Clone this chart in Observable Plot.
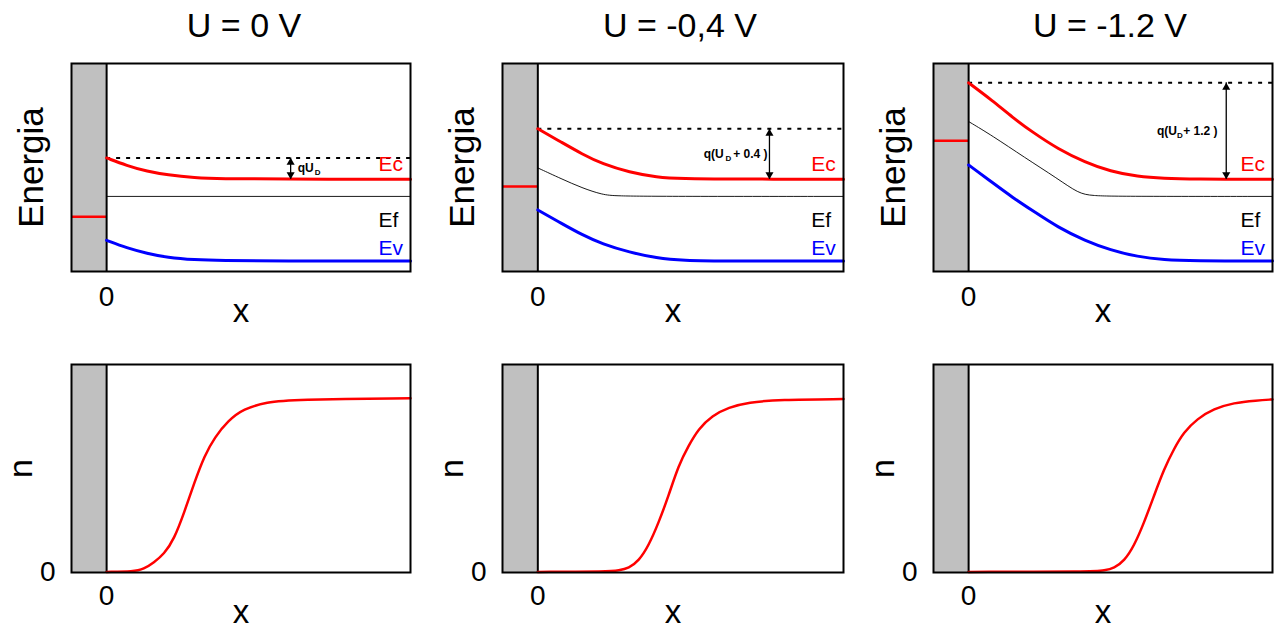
<!DOCTYPE html>
<html>
<head>
<meta charset="utf-8">
<script src="https://cdn.jsdelivr.net/npm/d3@7"></script>
<script src="https://cdn.jsdelivr.net/npm/@observablehq/plot@0.6"></script>
<style>
  html, body { margin: 0; padding: 0; background: #fff; }
  body { width: 1274px; height: 628px; overflow: hidden; position: relative;
         font-family: "Liberation Sans", Arial, Helvetica, sans-serif; }
  .title { position: absolute; width: 400px; text-align: center; font-size: 34px;
           line-height: 1; color: #000; white-space: pre; }
  .panel { position: absolute; }
  .panel svg { max-width: none !important; }
</style>
</head>
<body>
<script>
// ---------------- DATA ----------------
const titles = ["U = 0 V", "U = -0,4 V", "U = -1.2 V"];
const bandNames = ["Ec", "Ef", "Ev"];
const arrowMain = ["qU", "q(U", "q(U"];
const arrowSub = ["D", "D", "D"];
const arrowTail = ["", "+ 0.4 )", "+ 1.2 )"];

// metal wall spans x from -1.04 to 0 (semiconductor from 0 to 9)
const wallX = [-1.04, 0];

// Energy band edges [x, E]
const Ec_0V = [[0,5.46],[0.6,5.09],[1.2,4.81],[1.8,4.64],[2.6,4.51],[3.4,4.46],[5,4.44],[9,4.44]];
const Ef_0V = [[0,3.61],[9,3.61]];
const Ev_0V = [[0,1.50],[0.6,1.13],[1.2,0.87],[1.8,0.67],[2.6,0.56],[3.4,0.52],[5,0.50],[9,0.50]];

const Ec_04V = [[0,6.86],[0.7,6.21],[1.3,5.65],[1.9,5.17],[2.7,4.77],[3.5,4.53],[4.25,4.46],[5.6,4.44],[9,4.44]];
const Ef_04V = [[0,4.98],[0.7,4.45],[1.3,4.02],[1.9,3.69],[2.3,3.63],[3.7,3.61],[9,3.61]];
const Ev_04V = [[0,2.96],[0.7,2.31],[1.3,1.77],[1.9,1.32],[2.7,0.92],[3.5,0.65],[4.25,0.53],[5.6,0.50],[9,0.50]];

const Ec_12V = [[0,9.07],[0.7,8.22],[1.3,7.41],[1.9,6.69],[2.65,5.89],[3.45,5.25],[4.2,4.81],[5,4.56],[5.8,4.47],[6.6,4.44],[9,4.44]];
const Ef_12V = [[0,7.21],[0.7,6.53],[1.65,5.49],[2.65,4.45],[3.25,3.76],[3.65,3.64],[4.5,3.61],[9,3.61]];
const Ev_12V = [[0,5.12],[0.7,4.28],[1.3,3.56],[1.9,2.92],[2.65,2.12],[3.45,1.48],[4.2,1.03],[5,0.71],[5.8,0.56],[6.6,0.51],[9,0.50]];

const metalFermi = [2.63, 4.09, 6.29];   // E of metal Fermi level (red stub)
const barrierTop = [5.46, 6.86, 9.07];   // dotted level = Ec at interface
const EcBulk = 4.44;
const arrowX = [5.45, 6.82, 7.63];

// Electron density n(x)
const n_0V = [[0,0.003],[0.8,0.004],[1.1,0.016],[1.4,0.048],[1.7,0.088],[2.0,0.161],[2.3,0.289],[2.6,0.433],[2.9,0.562],[3.2,0.650],[3.6,0.730],[4.05,0.787],[4.75,0.819],[5.5,0.831],[9,0.838]];
const n_04V = [[0,0.003],[2.1,0.004],[2.38,0.01],[2.68,0.021],[2.97,0.056],[3.26,0.128],[3.56,0.241],[3.85,0.369],[4.14,0.514],[4.44,0.610],[4.73,0.690],[5.13,0.754],[5.62,0.794],[6.2,0.818],[7.1,0.831],[9,0.834]];
const n_12V = [[0,0.003],[3.7,0.004],[4.02,0.01],[4.31,0.021],[4.61,0.056],[4.9,0.128],[5.2,0.241],[5.49,0.369],[5.79,0.498],[6.08,0.594],[6.37,0.674],[6.77,0.739],[7.26,0.787],[7.85,0.816],[8.53,0.827],[9,0.832]];

const EcSets = [Ec_0V, Ec_04V, Ec_12V];
const EfSets = [Ef_0V, Ef_04V, Ef_12V];
const EvSets = [Ev_0V, Ev_04V, Ev_12V];
const nSets = [n_0V, n_04V, n_12V];

// ---------------- STYLE / LAYOUT ----------------
const RED = "#ff0000", BLUE = "#0000ff", WALL = "#c0c0c0";
const FONT = '"Liberation Sans", Arial, Helvetica, sans-serif';
const L = { frameLeft: [71, 502, 933], frameWidth: [339, 341, 339], topY: 61, bottomY: 362,
            ML: 71, MR: 2, MT: 2, MB: 60, FH: 208 };
const titleCenter = [244, 680, 1110];
const XDOM = [-1.04, 9];
const CURVE = "basis";
const bandLabelX = 8.05;
const bandLabelY = [5.17, 2.45, 1.1];
const bandColors = [RED, "black", BLUE];
// pixel offsets of the annotation text pieces relative to the arrow
const annDx = [
  { main: 7, sub: 24, tail: 0 },
  { main: -65.7, sub: -44, tail: -36.3 },
  { main: -69.3, sub: -49.3, tail: -43 }
];

const P = d => d[0], V = d => d[1];

function common(i) {
  const fw = L.frameWidth[i];
  return {
    width: L.ML + fw + L.MR,
    height: L.MT + L.FH + L.MB,
    marginLeft: L.ML, marginRight: L.MR, marginTop: L.MT, marginBottom: L.MB,
    style: { fontFamily: FONT, background: "white", overflow: "visible", color: "black" }
  };
}

function topPanel(i) {
  const top = barrierTop[i], bot = EcBulk, ax = arrowX[i], mid = (top + bot) / 2;
  const dx = annDx[i];
  const marks = [
    Plot.rect([wallX], { x1: P, x2: V, fill: WALL }),
    Plot.ruleY([metalFermi[i]], { x1: wallX[0], x2: wallX[1], stroke: RED, strokeWidth: 2.5 }),
    Plot.ruleX([0], { stroke: "black", strokeWidth: 2 }),
    Plot.ruleY([top], { x1: 0, x2: XDOM[1], stroke: "black", strokeWidth: 2, strokeDasharray: "4,6" }),
    Plot.line(EfSets[i], { x: P, y: V, curve: CURVE, stroke: "black", strokeWidth: 0.9 }),
    Plot.line(EcSets[i], { x: P, y: V, curve: CURVE, stroke: RED, strokeWidth: 3 }),
    Plot.line(EvSets[i], { x: P, y: V, curve: CURVE, stroke: BLUE, strokeWidth: 3 }),
    Plot.ruleX([ax], { y1: top, y2: bot, stroke: "black", strokeWidth: 1.3 }),
    Plot.dot([{ x: ax, y: top }], { x: "x", y: "y", symbol: "triangle", r: 3, fill: "black", stroke: "none", dy: 4.6 }),
    Plot.dot([{ x: ax, y: bot }], { x: "x", y: "y", symbol: "triangle", r: 3, fill: "black", stroke: "none", rotate: 180, dy: -4.6 }),
    Plot.text([arrowMain[i]], { x: () => ax, y: () => mid, text: d => d, textAnchor: "start", dx: dx.main, fontSize: 12, fontWeight: "bold", fill: "black" }),
    Plot.text([arrowSub[i]], { x: () => ax, y: () => mid, text: d => d, textAnchor: "start", dx: dx.sub, dy: 4, fontSize: 8, fontWeight: "bold", fill: "black" }),
    arrowTail[i] ? Plot.text([arrowTail[i]], { x: () => ax, y: () => mid, text: d => d, textAnchor: "start", dx: dx.tail, fontSize: 12, fontWeight: "bold", fill: "black" }) : null,
    ...bandNames.map((b, k) => Plot.text([b], { x: () => bandLabelX, y: () => bandLabelY[k], text: d => d, textAnchor: "start", fontSize: 21, fill: bandColors[k] })),
    Plot.frame({ stroke: "black", strokeWidth: 2 }),
    Plot.axisX({ ticks: [0], tickSize: 0, tickPadding: 15, fontSize: 28, label: null, tickFormat: d => String(d) }),
    Plot.axisX({ ticks: [], label: "x", labelAnchor: "center", labelOffset: 50, fontSize: 33, labelArrow: false }),
    Plot.axisY({ ticks: [], label: "Energia", labelAnchor: "center", labelOffset: 53, fontSize: 35, labelArrow: false })
  ].filter(Boolean);
  return Plot.plot({ ...common(i), x: { domain: XDOM }, y: { domain: [0, 10] }, marks });
}

function bottomPanel(i) {
  const marks = [
    Plot.rect([wallX], { x1: P, x2: V, fill: WALL }),
    Plot.ruleX([0], { stroke: "black", strokeWidth: 2 }),
    Plot.line(nSets[i], { x: P, y: V, curve: CURVE, stroke: RED, strokeWidth: 2.5 }),
    Plot.frame({ stroke: "black", strokeWidth: 2 }),
    Plot.axisX({ ticks: [0], tickSize: 0, tickPadding: 13, fontSize: 28, label: null, tickFormat: d => String(d) }),
    Plot.axisX({ ticks: [], label: "x", labelAnchor: "center", labelOffset: 50, fontSize: 33, labelArrow: false }),
    Plot.axisY({ ticks: [0], tickSize: 0, tickPadding: 16, fontSize: 28, label: null, tickFormat: d => String(d) }),
    Plot.axisY({ ticks: [], label: "n", labelAnchor: "center", labelOffset: 64, fontSize: 34, labelArrow: false })
  ];
  return Plot.plot({ ...common(i), x: { domain: XDOM }, y: { domain: [0, 1] }, marks });
}

function place(el, left, top, width) {
  const d = document.createElement("div");
  d.className = "panel";
  d.style.left = left + "px";
  d.style.top = top + "px";
  d.style.width = width + "px";
  d.appendChild(el);
  document.body.appendChild(d);
}

titles.forEach((t, i) => {
  const d = document.createElement("div");
  d.className = "title";
  d.textContent = t;
  d.style.left = (titleCenter[i] - 200) + "px";
  d.style.top = "8px";
  document.body.appendChild(d);
});

for (let i = 0; i < 3; i++) {
  const left = L.frameLeft[i] - L.ML;
  const w = L.ML + L.frameWidth[i] + L.MR;
  place(topPanel(i), left, L.topY, w);
  place(bottomPanel(i), left, L.bottomY, w);
}
</script>
</body>
</html>
